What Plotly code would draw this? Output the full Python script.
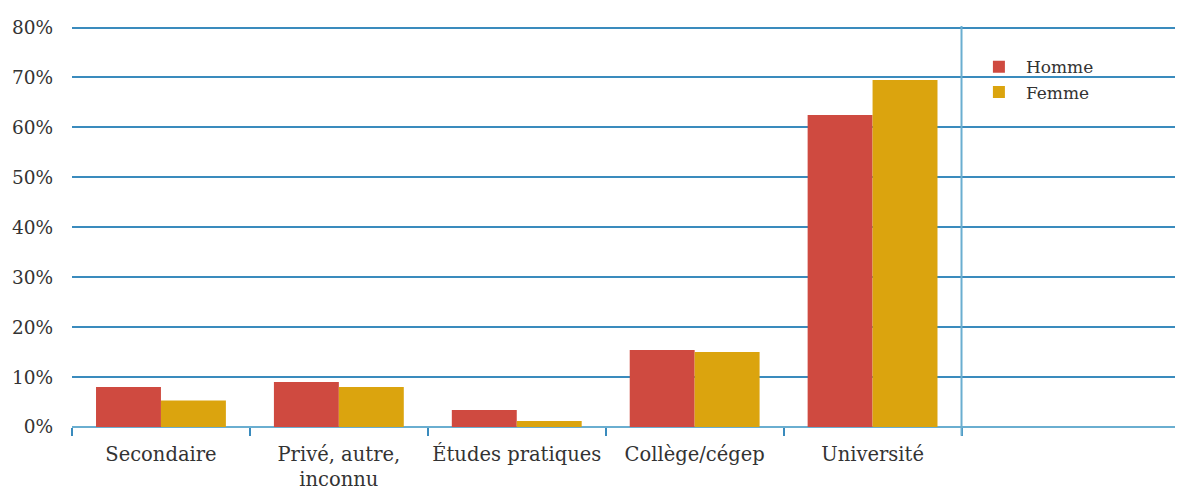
import plotly.graph_objects as go

categories = ["Secondaire", "Privé, autre,<br>inconnu", "Études pratiques", "Collège/cégep", "Université"]
homme = [8.0, 9.0, 3.4, 15.4, 62.5]
femme = [5.3, 8.0, 1.2, 15.0, 69.5]
y_ticks = [0, 10, 20, 30, 40, 50, 60, 70, 80]

RED = "#CF4A40"
GOLD = "#DBA40E"
GRID = "#3a8bbd"
AXIS = "#6aaed0"
FONT = "DejaVu Serif"

fig = go.Figure()
fig.add_trace(go.Bar(x=categories, y=homme, name="Homme", marker=dict(color=RED, line=dict(width=0))))
fig.add_trace(go.Bar(x=categories, y=femme, name="Femme", marker=dict(color=GOLD, line=dict(width=0))))

fig.update_layout(
    width=1183, height=491,
    margin=dict(l=64, r=8, t=18, b=72),
    paper_bgcolor="white", plot_bgcolor="white",
    barmode="group", bargap=0.27, bargroupgap=0,
    font=dict(family=FONT, size=17, color="#333333"),
    showlegend=True,
    legend=dict(x=0.81, y=0.942, xanchor="left", yanchor="top",
                font=dict(family=FONT, size=17, color="#333333"),
                bgcolor="rgba(0,0,0,0)", itemwidth=44, tracegroupgap=0),
)
fig.update_xaxes(
    type="category", range=[-0.5, 5.745], automargin=False, tickangle=0,
    tickson="boundaries", ticks="outside", ticklen=8, tickcolor=GRID, tickwidth=1.5,
    showgrid=False, showline=False, zeroline=False, ticklabelstandoff=13,
    tickfont=dict(family=FONT, size=19.5, color="#333333"),
)
fig.update_yaxes(
    range=[0, 80.3], tickvals=y_ticks, ticktext=[f"{v}%" for v in y_ticks], automargin=False,
    showgrid=True, gridcolor=GRID, gridwidth=1.5,
    zeroline=True, zerolinecolor=AXIS, zerolinewidth=2,
    showline=False, ticks="", ticklabelstandoff=18,
    tickfont=dict(family=FONT, size=18.5, color="#333333"),
)
fig.add_shape(type="line", xref="x", yref="paper", x0=4.5, x1=4.5, y0=-0.022, y1=1,
              line=dict(color=AXIS, width=2))

fig.write_html("out.html")
